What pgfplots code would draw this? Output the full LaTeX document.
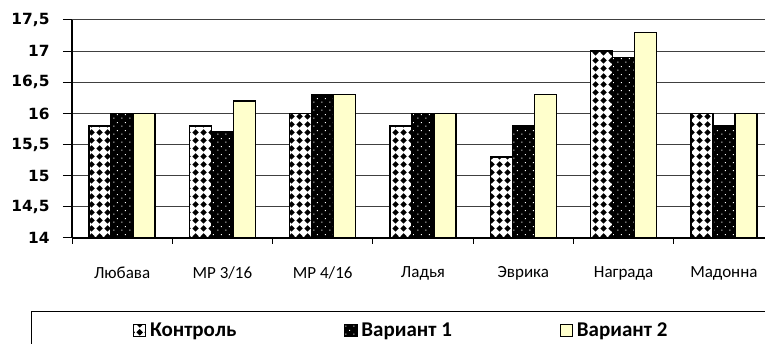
\documentclass[border=0pt]{standalone}
\usepackage{fontspec}
\setmainfont{DejaVu Sans}
\newfontfamily\catfont{Carlito}
\usepackage{pgfplots}
\pgfplotsset{compat=1.18}
\usetikzlibrary{patterns.meta}
\pgfdeclarepattern{
  name=diamonds,
  type=uncolored,
  bottom left={\pgfpoint{0pt}{0pt}},
  top right={\pgfpoint{8pt}{8pt}},
  tile size={\pgfpoint{8pt}{8pt}},
  code={
    \pgfpathmoveto{\pgfpoint{4pt}{0.4pt}}
    \pgfpathlineto{\pgfpoint{7.6pt}{4pt}}
    \pgfpathlineto{\pgfpoint{4pt}{7.6pt}}
    \pgfpathlineto{\pgfpoint{0.4pt}{4pt}}
    \pgfpathclose
    \pgfusepath{fill}
  }
}
\pgfdeclarepattern{
  name=sparsedots,
  type=uncolored,
  bottom left={\pgfpoint{0pt}{0pt}},
  top right={\pgfpoint{8pt}{8pt}},
  tile size={\pgfpoint{8pt}{8pt}},
  code={
    \pgfpathrectangle{\pgfpoint{1.5pt}{1.5pt}}{\pgfpoint{1.1pt}{1.1pt}}
    \pgfpathrectangle{\pgfpoint{5.5pt}{5.5pt}}{\pgfpoint{1.1pt}{1.1pt}}
    \pgfusepath{fill}
  }
}
\definecolor{lightyellow}{HTML}{FFFFCC}
\pgfplotsset{
  boxlegend/.style={legend image code/.code={\draw[##1, line width=1pt] (0pt,-6pt) rectangle (12pt,6pt);}}
}
\begin{document}
\begin{tikzpicture}
\useasboundingbox (-72pt,-106pt) rectangle (693pt,238pt);
\clip (-72pt,-106pt) rectangle (693pt,238pt);
\begin{axis}[
  at={(0pt,0pt)}, anchor=south west,
  scale only axis, width=693pt, height=218pt,
  ybar=0pt, bar width=22pt,
  xmin=-0.5, xmax=6.41, ymin=14, ymax=17.5,
  ytick={14,14.5,15,15.5,16,16.5,17,17.5},
  xtick={0,1,2,3,4,5,6},
  xticklabels={Любава, МР 3/16, МР 4/16, Ладья, Эврика, Награда, Мадонна},
  minor xtick={-0.5,0.5,1.5,2.5,3.5,4.5,5.5,6.5},
  axis x line*=bottom, axis y line*=left,
  axis line style={black, line width=1.2pt},
  ymajorgrids, grid style={draw=black!75, line width=1pt},
  tick align=outside, major tick length=9pt, minor tick length=6pt,
  tick style={black, line width=1pt},
  major x tick style={draw=none},
  /pgf/number format/assume math mode=true,
  /pgf/number format/use comma,
  yticklabel style={font=\bfseries\fontsize{15.4}{18}\selectfont, xshift=-10pt},
  xticklabel style={font=\catfont\fontsize{17}{20}\selectfont, yshift=-16pt},
  legend columns=3,
  legend style={draw=none, fill=none, at={(0.0834,-0.424)}, anchor=west,
    font=\catfont\bfseries\fontsize{21}{24}\selectfont,
    nodes={inner xsep=4pt},
    /tikz/every even column/.append style={column sep=104pt}},
]
\addplot[draw=black, line width=1.3pt, preaction={fill=white}, pattern=diamonds, pattern color=black, boxlegend]
  coordinates {(0,15.8) (1,15.8) (2,16) (3,15.8) (4,15.3) (5,17) (6,16)};
\addplot[draw=black, line width=1.3pt, preaction={fill=black}, pattern=sparsedots, pattern color=white, boxlegend]
  coordinates {(0,16) (1,15.7) (2,16.3) (3,16) (4,15.8) (5,16.9) (6,15.8)};
\addplot[draw=black, line width=1.3pt, fill=lightyellow, boxlegend]
  coordinates {(0,16) (1,16.2) (2,16.3) (3,16) (4,16.3) (5,17.3) (6,16)};
\addlegendentry{Контроль}
\addlegendentry{Вариант 1}
\addlegendentry{Вариант 2}
\end{axis}
\draw[black, line width=1pt] (-40pt,-74pt) rectangle (700pt,-140pt);
\end{tikzpicture}
\end{document}
